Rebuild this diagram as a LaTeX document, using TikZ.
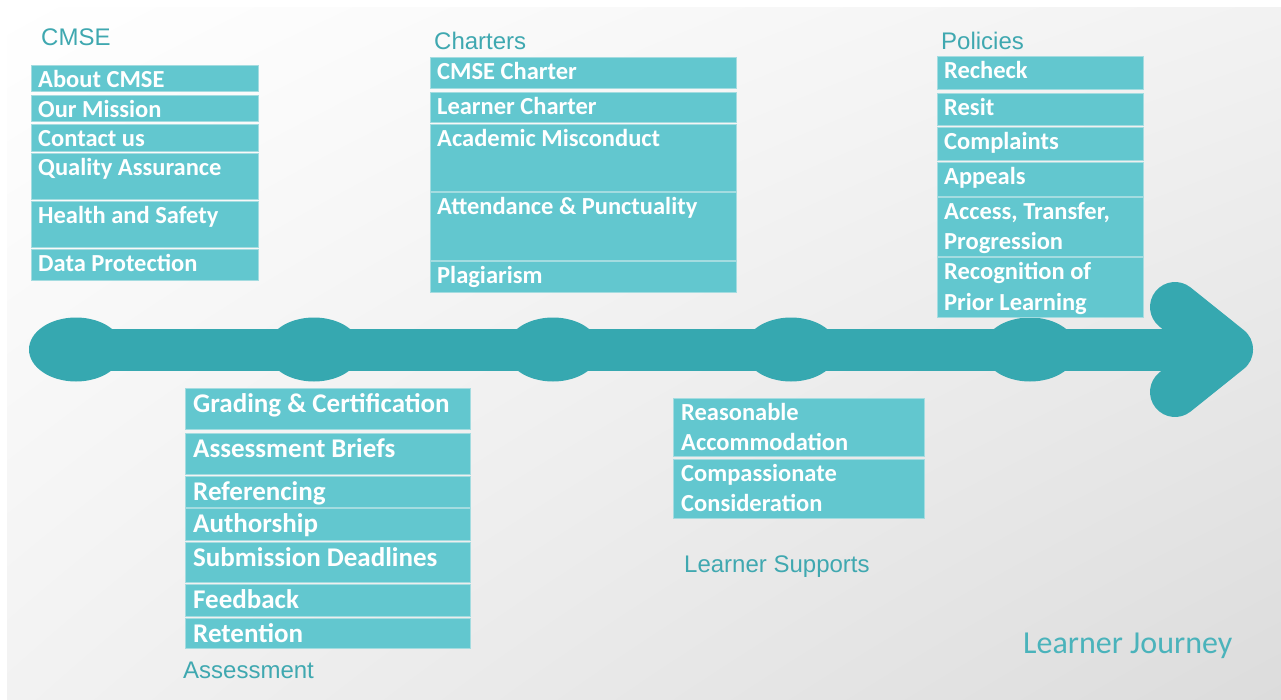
\documentclass[tikz,border=0pt]{standalone}
\usepackage{fontspec}
\usetikzlibrary{shadings}
\setmainfont{Carlito}
\newfontfamily\hdrfont{Liberation Sans}
\definecolor{boxc}{HTML}{62C7CF}
\definecolor{boxe}{HTML}{A4DCE0}
\definecolor{barc}{HTML}{36A8B0}
\definecolor{hdrc}{HTML}{3FA8B0}
\definecolor{ljc}{HTML}{4AB3BB}
\definecolor{bgmid}{HTML}{F2F2F2}
\definecolor{bgend}{HTML}{DCDCDC}
\tikzset{
  itembox/.style={fill=boxc, draw=boxe, line width=1pt},
  txtbase/.style={anchor=base west, inner sep=0pt, text=white,
    font=\bfseries\fontsize{24.5}{30}\selectfont, align=left},
  itemtext/.style={txtbase, xshift=7pt, yshift=-22pt},
  itemtextii/.style={txtbase, xshift=7pt, yshift=-52pt},
  bigtext/.style={txtbase, xshift=8pt, yshift=-24pt, font=\bfseries\fontsize{27}{30}\selectfont},
  suptextii/.style={txtbase, xshift=8pt, yshift=-52pt},
  header/.style={anchor=base west, inner sep=0pt, text=hdrc, font=\hdrfont\fontsize{24}{28}\selectfont},
  journey/.style={anchor=base west, inner sep=0pt, text=ljc, font=\fontsize{32}{36}\selectfont},
  timeline/.style={draw=barc, line width=42pt},
  dot/.style={fill=barc},
  tipstyle/.style={draw=barc, line width=50pt, line cap=round, line join=round}
}
\newcommand{\itm}[7]{%
  \path[itembox] (#3,#4) rectangle (#5,#6);
  \node[#1] (#2) at (#3,#4) {#7};}
\begin{document}
\begin{tikzpicture}[x=1pt,y=-1pt]
\useasboundingbox (0,0) rectangle (1281,700);
\fill[white] (0,0) rectangle (1281,700);
\shade[upper left=white, upper right=bgmid, lower left=bgmid, lower right=bgend] (7,8) rectangle (1281,699);

% timeline
\coordinate (tstart) at (76,349.5);
\coordinate (ttip) at (1228,349.5);
\coordinate (tup) at (1175,307);
\coordinate (tdown) at (1175,392);
\draw[timeline] (tstart) -- (ttip);
\foreach \cx/\nm in {76/e1,314/e2,553/e3,791/e4,1030/e5}{
  \fill[dot] (\cx,349.5) ellipse [x radius=47, y radius=32];
}
\draw[tipstyle] (tup) -- (ttip) -- (tdown);

% CMSE
\node[header] (hcmse) at (41,46) {CMSE};
\itm{itemtext}{c1}{31}{66}{258}{92}{About CMSE}
\itm{itemtext}{c2}{31}{96}{258}{122}{Our Mission}
\itm{itemtext}{c3}{31}{125}{258}{152}{Contact us}
\itm{itemtext}{c4}{31}{154}{258}{200}{Quality Assurance}
\itm{itemtext}{c5}{31}{202}{258}{248}{Health and Safety}
\itm{itemtext}{c6}{31}{250}{258}{281}{Data Protection}

% Charters
\node[header] (hchart) at (434,50) {Charters};
\itm{itemtext}{h1}{430}{58}{736}{89}{CMSE Charter}
\itm{itemtext}{h2}{430}{93}{736}{123}{Learner Charter}
\itm{itemtext}{h3}{430}{125}{736}{192}{Academic Misconduct}
\itm{itemtext}{h4}{430}{193}{736}{261}{Attendance \& Punctuality}
\itm{itemtext}{h5}{430}{262}{736}{293}{Plagiarism}

% Policies
\node[header] (hpol) at (941,50) {Policies};
\itm{itemtext}{p1}{937}{57}{1143}{90}{Recheck}
\itm{itemtext}{p2}{937}{94}{1143}{126}{Resit}
\itm{itemtext}{p3}{937}{128}{1143}{161}{Complaints}
\itm{itemtext}{p4}{937}{163}{1143}{197}{Appeals}
\itm{itemtextii}{p5}{937}{198}{1143}{257}{Access, Transfer,\\Progression}
\itm{itemtextii}{p6}{937}{258}{1143}{317}{Recognition of\\Prior Learning}

% Assessment
\itm{bigtext}{a1}{185}{388}{470}{429}{Grading \& Certification}
\itm{bigtext}{a2}{185}{433}{470}{474}{Assessment Briefs}
\itm{bigtext}{a3}{185}{476}{470}{507}{Referencing}
\itm{bigtext}{a4}{185}{508}{470}{540}{Authorship}
\itm{bigtext}{a5}{185}{542}{470}{582}{Submission Deadlines}
\itm{bigtext}{a6}{185}{584}{470}{616}{Feedback}
\itm{bigtext}{a7}{185}{618}{470}{648}{Retention}
\node[header] (hass) at (183,678) {Assessment};

% Learner supports
\itm{suptextii}{s1}{673}{398}{924}{456}{Reasonable\\Accommodation}
\itm{suptextii}{s2}{673}{459}{924}{518}{Compassionate\\Consideration}
\node[header] (hsup) at (684,572) {Learner Supports};

\node[journey] (lj) at (1023,653) {Learner Journey};
\end{tikzpicture}
\end{document}
